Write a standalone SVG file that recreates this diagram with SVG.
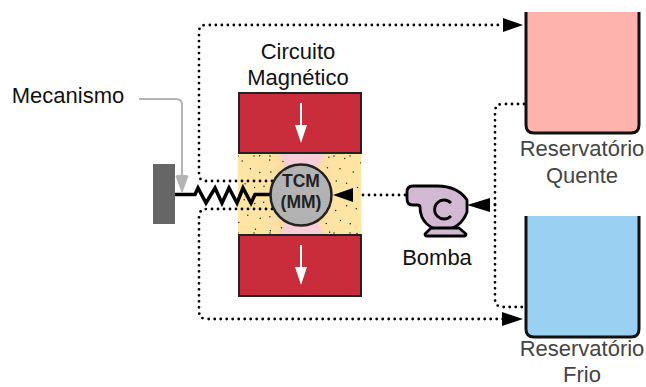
<svg xmlns="http://www.w3.org/2000/svg" width="646" height="387" viewBox="0 0 646 387">
<style>
text{font-family:"Liberation Sans",Arial,sans-serif;font-size:22px;text-anchor:middle;fill:#111}
.g{fill:#444}
.tc{font-weight:bold;font-size:17.5px;fill:#222}
.mag{fill:#c92c3a;stroke:#222;stroke-width:2}
.wa{stroke:#fff;stroke-width:2;fill:none}
.dot{fill:none;stroke:#000;stroke-width:2.8;stroke-dasharray:0 6;stroke-linecap:round}
.sp{fill:none;stroke:#222;stroke-width:1.5;stroke-dasharray:0 16;stroke-linecap:round}
.tank{fill:none;stroke:#111;stroke-width:3}
.pump{fill:#d3b8d3;stroke:#000;stroke-width:2.8;stroke-linejoin:round}
</style>
<defs>
<linearGradient id="gl" x1="0" x2="1" y1="0" y2="0"><stop offset="0" stop-color="#ffe6a3"/><stop offset=".55" stop-color="#ffe2a3"/><stop offset="1" stop-color="#fbcaa8"/></linearGradient>
<linearGradient id="gr" x1="1" x2="0" y1="0" y2="0"><stop offset="0" stop-color="#ffe6a3"/><stop offset=".55" stop-color="#ffe2a3"/><stop offset="1" stop-color="#fbcaa8"/></linearGradient>
<clipPath id="yc"><path d="M238 154H280L301 195L280 235H238Z"/><path d="M361 154H325L301 195L325 235H361Z"/></clipPath>
</defs>
<g id="material">
<rect x="238" y="154" width="123" height="81" fill="#f8cfd8"/>
<path d="M238 154H280L301 195L280 235H238Z" fill="url(#gl)"/>
<path d="M361 154H325L301 195L325 235H361Z" fill="url(#gr)"/>
<g clip-path="url(#yc)">
<circle class="sp" cx="301" cy="195" r="38"/><circle class="sp" cx="301" cy="195" r="47" stroke-dashoffset="5"/><circle class="sp" cx="301" cy="195" r="57" stroke-dashoffset="2"/><circle class="sp" cx="301" cy="195" r="68" stroke-dashoffset="7"/>
<path class="sp" d="M238 156H361M238 233H361"/>
</g>
</g>
<g id="connectors">
<path class="dot" d="M278 181H206Q199 181 199 174V32Q199 25 206 25H503"/>
<path d="M503 18L523 25L503 32Z" fill="#000"/>
<path class="dot" d="M278 209H207Q199 209 199 217V311Q199 319 207 319H503"/>
<path d="M502 312L523 319L502 326Z" fill="#000"/>
<path class="dot" d="M524 104H503Q495 104 495 112V299Q495 307 503 307H524"/>
<path class="dot" d="M405 195H357"/>
<path d="M353 188L333 195L353 202Z" fill="#000"/>
<path class="dot" d="M495 205H491"/>
<path d="M490 198L467 205L490 212Z" fill="#000"/>
<path d="M139 99H176Q182 99 182 105V176" fill="none" stroke="#b3b3b3" stroke-width="2"/>
<path d="M182 192L176 176Q182 174 188 176Z" fill="#b3b3b3" stroke="#b3b3b3"/>
<path d="M175 194.500H195L198 188L206 203L215 188L222 203L229 188L237 203L243 188L251 203L255 194.500H272" fill="none" stroke="#000" stroke-width="3.500"/>
</g>
<g id="wall"><rect x="153" y="164" width="22" height="60" fill="#666"/></g>
<g id="magnet-top"><rect class="mag" x="239" y="93" width="122" height="60"/><path class="wa" d="M301 103V125"/><path d="M295 125H307L301 143Z" fill="#fff"/></g>
<g id="magnet-bottom"><rect class="mag" x="239" y="235" width="122" height="61"/><path class="wa" d="M301 245V267"/><path d="M295 267H307L301 285Z" fill="#fff"/></g>
<g id="tcm"><circle cx="301" cy="195" r="30.500" fill="#b3b3b3" stroke="#222" stroke-width="2.500"/>
<text class="tc" x="301" y="187">TCM</text><text class="tc" x="301" y="208">(MM)</text></g>
<g id="pump"><path class="pump" d="M413 186H437C450 186 461 191 467 200V212C463 223 454 230 443 230C429 230 420 220 420 207Q420 205 417 205H413Q407 205 407 199V192Q407 186 413 186Z"/>
<path class="pump" d="M431 228H459L466 234Q466 236 464 236H427Q425 236 425 234Z"/>
<path d="M451 203A9.500 9.500 0 1 0 451 216" fill="none" stroke="#000" stroke-width="2.800"/></g>
<g id="tank-hot"><path d="M526 12H639V125Q639 133 631 133H534Q526 133 526 125Z" fill="#ffb3ac"/><path class="tank" d="M526 12V125Q526 133 534 133H631Q639 133 639 125V12"/></g>
<g id="tank-cold"><path d="M526 216H639V329Q639 337 631 337H534Q526 337 526 329Z" fill="#9ad1f2"/><path class="tank" d="M526 216V329Q526 337 534 337H631Q639 337 639 329V216"/></g>
<g id="labels">
<text x="68" y="103">Mecanismo</text>
<text x="298" y="59">Circuito</text><text x="298" y="85">Magnético</text>
<text x="437" y="265">Bomba</text>
<text class="g" x="582" y="156">Reservatório</text><text class="g" x="582" y="183">Quente</text>
<text class="g" x="582" y="356">Reservatório</text><text class="g" x="582" y="382">Frio</text>
</g>
</svg>
